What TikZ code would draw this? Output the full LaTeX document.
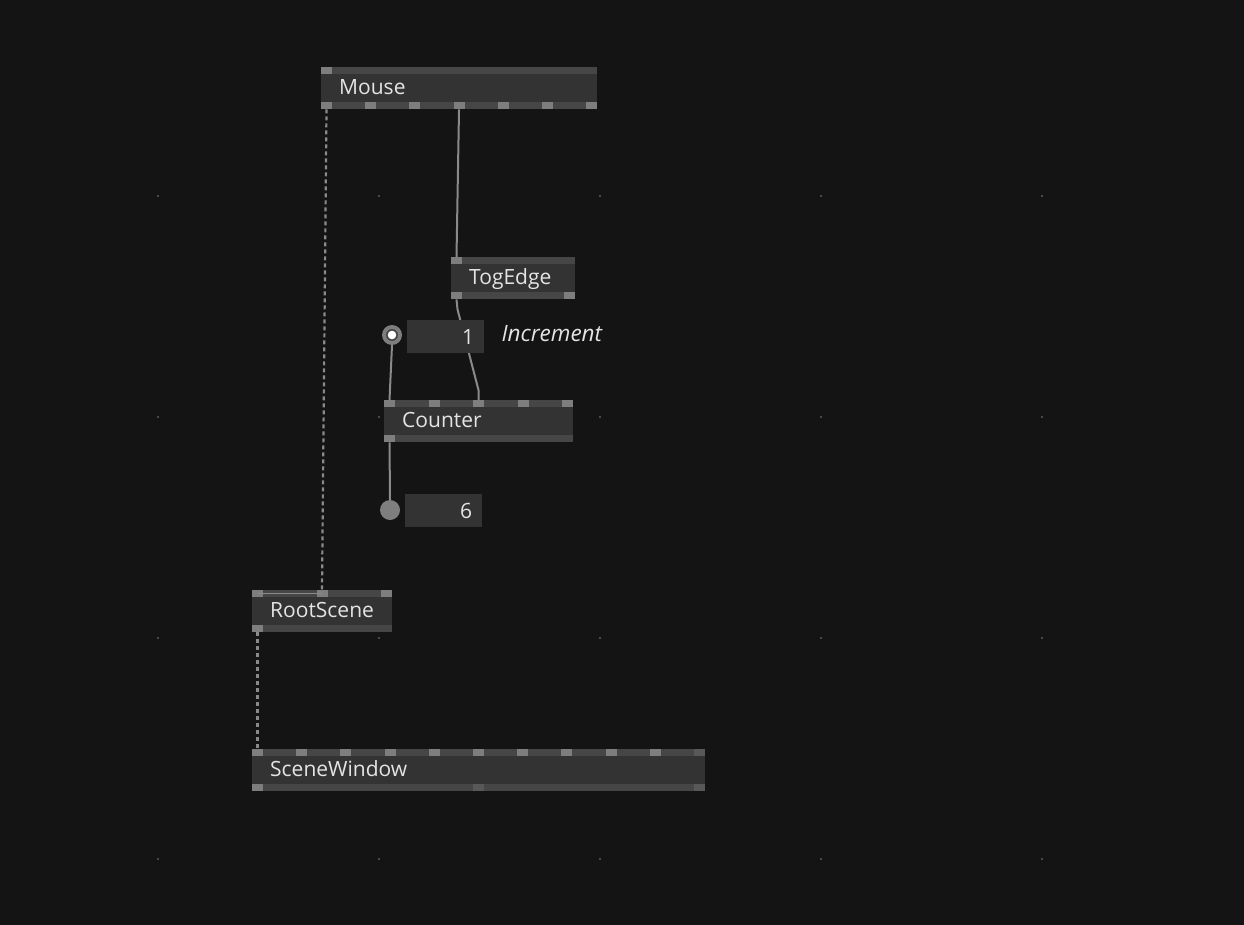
\documentclass[tikz,border=0pt]{standalone}
\usepackage{fontspec}
\setmainfont{Open Sans}
\definecolor{patchbg}{HTML}{141414}
\definecolor{nodebody}{HTML}{333333}
\definecolor{nodebar}{HTML}{464646}
\definecolor{pingray}{HTML}{7E7E7E}
\definecolor{pindark}{HTML}{585858}
\definecolor{linkgray}{HTML}{8A8A8A}
\definecolor{labeltext}{HTML}{E4E4E4}
\definecolor{dotgray}{HTML}{5A5A5A}
\begin{document}
\begin{tikzpicture}
  [x=1pt,y=-1pt,
   every node/.style={font=\fontsize{21}{24}\selectfont,text=labeltext},
   vbox/.style={rectangle,fill=nodebody,anchor=north west,minimum height=42pt,
     inner xsep=18pt,inner ysep=0pt,align=left,text height=17pt,text depth=4pt},
   iobox/.style={rectangle,fill=nodebody,anchor=north west,minimum height=33pt,
     inner xsep=10pt,inner ysep=0pt,align=right},
   bar/.style={fill=nodebar},
   pin/.style={fill=pingray},
   pinoff/.style={fill=pindark},
   link/.style={draw=linkgray,line width=2pt},
   dashlink/.style={link,line width=2.2pt,dash pattern=on 4pt off 3pt}]
  \useasboundingbox[fill=patchbg] (0,0) rectangle (1244,925);

  % grid
  \foreach \x in {158,379,600,821,1042}
    \foreach \y in {196,417,638,859}
      \fill[dotgray] (\x,\y) circle (1.1pt);

  % nodes
  \node[vbox,minimum width=276pt,text width=240pt] (mouse) at (321,67) {Mouse};
  \node[vbox,minimum width=124pt,text width=88pt] (togedge) at (451,257) {TogEdge};
  \node[vbox,minimum width=189pt,text width=153pt] (counter) at (384,400) {Counter};
  \node[vbox,minimum width=140pt,text width=104pt] (rootscene) at (252,590) {RootScene};
  \node[vbox,minimum width=453pt,text width=417pt] (scenewindow) at (252,749) {SceneWindow};

  % bars
  \foreach \n in {mouse,togedge,counter,rootscene,scenewindow} {
    \fill[bar] (\n.north west) rectangle ([yshift=-7pt]\n.north east);
    \fill[bar] (\n.south west) rectangle ([yshift=7pt]\n.south east);
  }

  % pins
  \fill[pin] (mouse.north west) rectangle ++(11,7);
  \coordinate (mouse-i0) at ([xshift=5.5pt]mouse.north west);
  \foreach \i in {0,...,6} {
    \fill[pin] ([xshift=\i*44.17pt]mouse.south west) rectangle ++(11,-7);
    \coordinate (mouse-o\i) at ([xshift=\i*44.17pt+5.5pt]mouse.south west);
  }
  \fill[pin] (togedge.north west) rectangle ++(11,7);
  \coordinate (togedge-i0) at ([xshift=5.5pt]togedge.north west);
  \foreach \i in {0,1} {
    \fill[pin] ([xshift=\i*113pt]togedge.south west) rectangle ++(11,-7);
    \coordinate (togedge-o\i) at ([xshift=\i*113pt+5.5pt]togedge.south west);
  }
  \foreach \i in {0,...,4} {
    \fill[pin] ([xshift=\i*44.5pt]counter.north west) rectangle ++(11,7);
    \coordinate (counter-i\i) at ([xshift=\i*44.5pt+5.5pt]counter.north west);
  }
  \fill[pin] (counter.south west) rectangle ++(11,-7);
  \coordinate (counter-o0) at ([xshift=5.5pt]counter.south west);
  \foreach \i in {0,1,2} {
    \fill[pin] ([xshift=\i*64.5pt]rootscene.north west) rectangle ++(11,7);
    \coordinate (rootscene-i\i) at ([xshift=\i*64.5pt+5.5pt]rootscene.north west);
  }
  \fill[pin] (rootscene.south west) rectangle ++(11,-7);
  \coordinate (rootscene-o0) at ([xshift=5.5pt]rootscene.south west);
  \foreach \i in {0,...,9} {
    \fill[pin] ([xshift=\i*44.2pt]scenewindow.north west) rectangle ++(11,7);
    \coordinate (scenewindow-i\i) at ([xshift=\i*44.2pt+5.5pt]scenewindow.north west);
  }
  \fill[pinoff] ([xshift=-11pt]scenewindow.north east) rectangle ++(11,7);
  \fill[pin] (scenewindow.south west) rectangle ++(11,-7);
  \fill[pinoff] ([xshift=221pt]scenewindow.south west) rectangle ++(11,-7);
  \fill[pinoff] ([xshift=-11pt]scenewindow.south east) rectangle ++(11,-7);

  % links behind the io boxes
  \draw[link] (mouse-o3) -- (togedge-i0);
  \draw[link] (togedge-o0) -- ++(1,10) -- ([yshift=10pt]counter-i2) -- (counter-i2);

  % io boxes
  \node[iobox,minimum width=77pt,text width=57pt] (incr) at (407,320) {1};
  \node[circle,fill=pingray,minimum size=20pt,inner sep=0pt] (incr-pin) at (392,335) {};
  \fill[nodebar] (incr-pin) circle (6pt);
  \fill[white] (incr-pin) circle (4.3pt);
  \node[anchor=west,font=\fontsize{22.5}{26}\selectfont\itshape] (incr-label) at (498,334) {Increment};
  \node[iobox,minimum width=77pt,text width=57pt] (count) at (405,494) {6};
  \node[circle,fill=pingray,minimum size=20pt,inner sep=0pt] (count-pin) at (390,510) {};

  % links
  \draw[link] (incr-pin.south) -- (counter-i0);
  \draw[link] (counter-o0) -- (count-pin.north);
  \draw[dashlink] (mouse-o0) -- (rootscene-i1);
  \draw[dashlink] (rootscene-o0) -- (scenewindow-i0);
  \draw[draw=linkgray,line width=1.2pt] ([yshift=-3.5pt]rootscene-i0) -- ([yshift=-3.5pt]rootscene-i1);
\end{tikzpicture}
\end{document}
